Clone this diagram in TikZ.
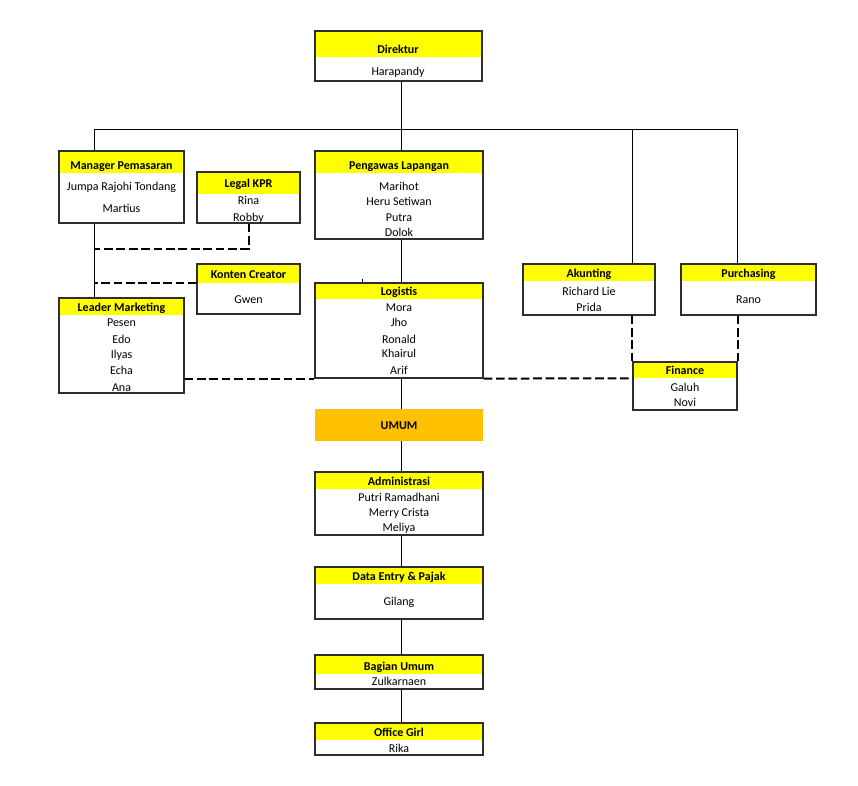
\documentclass[tikz,border=0pt]{standalone}
\usepackage{fontspec}
\setmainfont{Carlito}
\usetikzlibrary{fit,calc}
\definecolor{hdryellow}{HTML}{FFFF00}
\definecolor{umumorange}{HTML}{FFC000}
\definecolor{boxline}{HTML}{2E2E2E}
\begin{document}
\begin{tikzpicture}[x=0.75pt,y=-0.75pt,
  frame/.style={draw=boxline, line width=0.9pt, inner sep=0pt},
  head/.style={fill=hdryellow, inner sep=0pt},
  orangehead/.style={fill=umumorange, inner sep=0pt},
  ttl/.style={font=\fontsize{9}{10}\selectfont\bfseries, inner sep=0pt, text height=6.2pt, text depth=1.8pt, yshift=-1.5pt},
  nm/.style={font=\fontsize{9}{10}\selectfont, inner sep=0pt, text height=6.2pt, text depth=1.8pt, yshift=-1.5pt},
  link/.style={draw=black, line width=0.75pt},
  dashlink/.style={draw=black, line width=1.5pt, dash pattern=on 6.5pt off 2.8pt}]
\useasboundingbox[fill=white] (0,0) rectangle (858,786);

% ---------- Direktur
\node[head, fit={(315,31) (482,57)}] (dirh) {};
\node[frame, fit={(315,31) (482,81)}] (dir) {};
\node[ttl] (dirt) at (398,49) {Direktur};
\node[nm] (dirn1) at (398,71) {Harapandy};

% ---------- Manager Pemasaran
\node[head, fit={(59,151) (184,173)}] (mgrh) {};
\node[frame, fit={(59,151) (184,223)}] (mgr) {};
\node[ttl] (mgrt) at (121.5,165) {Manager Pemasaran};
\node[nm] (mgrn1) at (121.5,186) {Jumpa Rajohi Tondang};
\node[nm] (mgrn2) at (121.5,208) {Martius};

% ---------- Legal KPR
\node[head, fit={(197,172) (300,194)}] (legh) {};
\node[frame, fit={(197,172) (300,223)}] (leg) {};
\node[ttl] (legt) at (248.5,183) {Legal KPR};
\node[nm] (legn1) at (248.5,200) {Rina};
\node[nm] (legn2) at (248.5,217) {Robby};

% ---------- Konten Creator
\node[head, fit={(197,264) (300,283)}] (konh) {};
\node[frame, fit={(197,264) (300,314)}] (kon) {};
\node[ttl] (kont) at (248.5,274) {Konten Creator};
\node[nm] (konn1) at (248.5,299) {Gwen};

% ---------- Leader Marketing
\node[head, fit={(59,298) (184,315)}] (leah) {};
\node[frame, fit={(59,298) (184,393)}] (lea) {};
\node[ttl] (leat) at (121.5,307) {Leader Marketing};
\node[nm] (lean1) at (121.5,322) {Pesen};
\node[nm] (lean2) at (121.5,339) {Edo};
\node[nm] (lean3) at (121.5,354) {Ilyas};
\node[nm] (lean4) at (121.5,370) {Echa};
\node[nm] (lean5) at (121.5,387) {Ana};

% ---------- Pengawas Lapangan
\node[head, fit={(315,151) (483,173)}] (penh) {};
\node[frame, fit={(315,151) (483,239)}] (pen) {};
\node[ttl] (pent) at (399,165) {Pengawas Lapangan};
\node[nm] (penn1) at (399,186) {Marihot};
\node[nm] (penn2) at (399,201) {Heru Setiwan};
\node[nm] (penn3) at (399,217) {Putra};
\node[nm] (penn4) at (399,232) {Dolok};

% ---------- Logistis
\node[head, fit={(315,283) (483,299)}] (logh) {};
\node[frame, fit={(315,283) (483,378)}] (log) {};
\node[ttl] (logt) at (399,291) {Logistis};
\node[nm] (logn1) at (399,307) {Mora};
\node[nm] (logn2) at (399,322) {Jho};
\node[nm] (logn3) at (399,339) {Ronald};
\node[nm] (logn4) at (399,353) {Khairul};
\node[nm] (logn5) at (399,370) {Arif};

% ---------- Akunting
\node[head, fit={(523,264) (655,281)}] (akuh) {};
\node[frame, fit={(523,264) (655,315)}] (aku) {};
\node[ttl] (akut) at (589,273) {Akunting};
\node[nm] (akun1) at (589,291) {Richard Lie};
\node[nm] (akun2) at (589,307) {Prida};

% ---------- Purchasing
\node[head, fit={(681,264) (816,281)}] (purh) {};
\node[frame, fit={(681,264) (816,315)}] (pur) {};
\node[ttl] (purt) at (748.5,273) {Purchasing};
\node[nm] (purn1) at (748.5,299) {Rano};

% ---------- Finance
\node[head, fit={(633,362) (737,378)}] (finh) {};
\node[frame, fit={(633,362) (737,410)}] (fin) {};
\node[ttl] (fint) at (685,370) {Finance};
\node[nm] (finn1) at (685,387) {Galuh};
\node[nm] (finn2) at (685,402) {Novi};

% ---------- UMUM
\node[orangehead, fit={(315,409) (483,441)}] (umu) {};
\node[ttl] (umut) at (399,425) {UMUM};

% ---------- Administrasi
\node[head, fit={(315,472) (483,489)}] (admh) {};
\node[frame, fit={(315,472) (483,535)}] (adm) {};
\node[ttl] (admt) at (399,481) {Administrasi};
\node[nm] (admn1) at (399,497) {Putri Ramadhani};
\node[nm] (admn2) at (399,512) {Merry Crista};
\node[nm] (admn3) at (399,527) {Meliya};

% ---------- Data Entry & Pajak
\node[head, fit={(315,567) (483,584)}] (dath) {};
\node[frame, fit={(315,567) (483,619)}] (dat) {};
\node[ttl] (datt) at (399,576) {Data Entry \& Pajak};
\node[nm] (datn1) at (399,601) {Gilang};

% ---------- Bagian Umum
\node[head, fit={(315,655) (483,674)}] (bagh) {};
\node[frame, fit={(315,655) (483,689)}] (bag) {};
\node[ttl] (bagt) at (399,666) {Bagian Umum};
\node[nm] (bagn1) at (399,681) {Zulkarnaen};

% ---------- Office Girl
\node[head, fit={(315,723) (483,740)}] (ogh) {};
\node[frame, fit={(315,723) (483,755)}] (og) {};
\node[ttl] (ogt) at (399,732) {Office Girl};
\node[nm] (ogn1) at (399,748) {Rika};

% ---------- bus and solid connectors
\coordinate (busL) at (94,129);
\coordinate (busC) at (401,129);
\coordinate (busR) at (fin.east |- busL);
\draw[link] (busL) -- (busR);
\draw[link] (dir.south -| busC) -- (busC);
\draw[link] (busL) -- (mgr.north -| busL);
\draw[link] (busC) -- (pen.north -| busC);
\draw[link] (fin.west |- busL) -- (aku.north -| fin.west);
\draw[link] (busR) -- (pur.north -| busR);
\draw[link] (mgr.south -| busL) -- (lea.north -| busL);
\draw[link] (pen.south -| busC) -- (log.north -| busC);
\coordinate (tick) at (362,279);
\draw[link] (tick) -- (log.north -| tick);
\draw[link] (log.south -| busC) -- (umu.north -| busC);
\draw[link] (umu.south -| busC) -- (adm.north -| busC);
\draw[link] (adm.south -| busC) -- (dat.north -| busC);
\draw[link] (dat.south -| busC) -- (bag.north -| busC);
\draw[link] (bag.south -| busC) -- (og.north -| busC);

% ---------- dashed connectors
\coordinate (legj) at (94,249);
\draw[dashlink] (leg.south) |- (legj);
\coordinate (konj) at (konh.south -| busL);
\draw[dashlink] (konh.south west) -- (konj);
\draw[dashlink] (lea.east |- log.south) -- (log.south west);
\draw[dashlink] (log.south east) -- (finh.south west);
\draw[dashlink] (aku.south -| fin.west) -- (fin.north west);
\draw[dashlink] (pur.south -| fin.east) -- (fin.north east);
\end{tikzpicture}
\end{document}
